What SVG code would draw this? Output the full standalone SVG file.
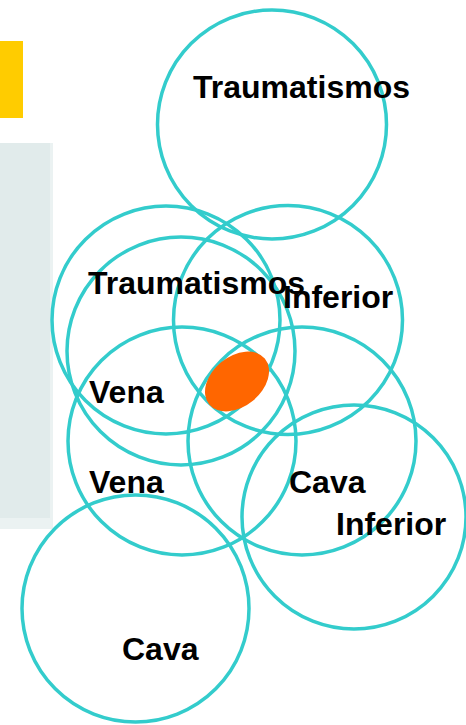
<svg xmlns="http://www.w3.org/2000/svg" width="466" height="725" viewBox="0 0 466 725">
<style>
.c{fill:none;stroke:#33CCCC;stroke-width:3.5}
.t{font-family:"Liberation Sans",Arial,sans-serif;font-weight:bold;font-size:32px;fill:#000}
</style>
<rect x="0" y="0" width="466" height="725" fill="#fff"/>
<rect id="yellow-bar" x="0" y="41" width="23" height="77" fill="#FFCC00"/>
<g id="side-panel">
<rect x="0" y="143" width="53" height="386" fill="#EBF2F2"/>
<rect x="0" y="143" width="50" height="375" fill="#E1EBEB"/>
</g>
<g id="circles">
<g id="c-traumatismos-top"><circle class="c" cx="272" cy="124.5" r="114.5"/></g>
<g id="c-traumatismos-a"><circle class="c" cx="166" cy="320" r="114"/></g>
<g id="c-traumatismos-b"><circle class="c" cx="181" cy="351" r="114"/></g>
<g id="c-inferior-top"><circle class="c" cx="288" cy="320" r="114.5"/></g>
<g id="c-vena"><circle class="c" cx="182" cy="441" r="114"/></g>
<g id="c-cava-mid"><circle class="c" cx="302" cy="441" r="114"/></g>
<g id="c-inferior-right"><circle class="c" cx="354" cy="517" r="112"/></g>
<g id="c-cava-bottom"><circle class="c" cx="135.5" cy="608.5" r="113.5"/></g>
</g>
<g id="spot"><ellipse cx="237" cy="381.5" rx="36" ry="25" transform="rotate(-39.5 237 381.5)" fill="#FF6600"/></g>
<g id="connectors"/>
<g id="labels">
<text class="t" x="193" y="98">Traumatismos</text>
<text class="t" x="88" y="294">Traumatismos</text>
<text class="t" x="283" y="308">Inferior</text>
<text class="t" x="89" y="403">Vena</text>
<text class="t" x="89" y="493">Vena</text>
<text class="t" x="289" y="493">Cava</text>
<text class="t" x="336" y="535">Inferior</text>
<text class="t" x="122" y="660">Cava</text>
</g>
</svg>
